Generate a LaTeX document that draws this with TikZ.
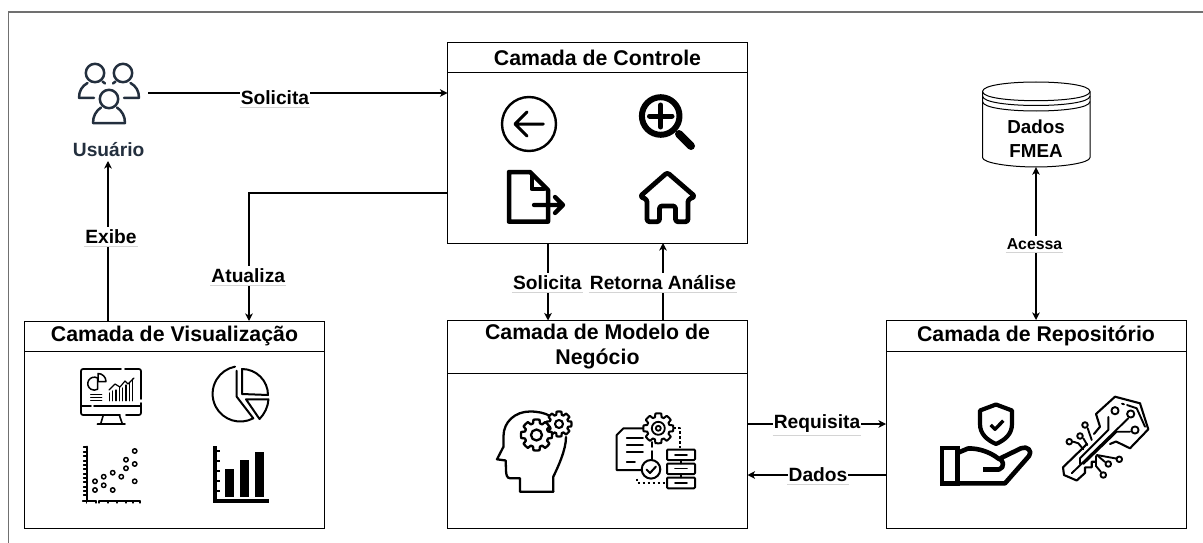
\documentclass[tikz,border=0pt]{standalone}
\usepackage{fontspec}
\setmainfont{Liberation Sans}
\usetikzlibrary{arrows.meta,calc}
\definecolor{usercol}{HTML}{232F3E}
\definecolor{framecol}{HTML}{707070}
\definecolor{ulcol}{HTML}{D4D4D4}
\tikzset{
  boxbody/.style={draw=black,fill=white,line width=1pt,inner sep=0pt,outer sep=0pt,minimum width=300pt},
  boxhead/.style={draw=black,fill=white,line width=1pt,inner sep=0pt,outer sep=0pt,minimum width=300pt,align=center,font=\fontsize{21.3}{25}\selectfont\bfseries},
  conn/.style={line width=1.2pt,-{Stealth[length=7.5pt,width=7.5pt,inset=2pt]}},
  connboth/.style={line width=1.2pt,{Stealth[length=7.5pt,width=7.5pt,inset=2pt]}-{Stealth[length=7.5pt,width=7.5pt,inset=2pt]}},
  lbl/.style={fill=white,inner xsep=1pt,inner ysep=2.5pt,font=\fontsize{19.2}{22}\selectfont\bfseries,
     append after command={(\tikzlastnode.south west) edge[draw=ulcol,line width=.9pt,-] (\tikzlastnode.south east)}},
  lblsmall/.style={lbl,font=\fontsize{15.8}{18}\selectfont\bfseries},
  ico/.style={draw=black,line width=#1,line cap=round,line join=round},
  ico/.default=1.7pt,
}
\newcommand{\gearshape}[6]{%
  \draw[fill=white,line width=#6,line join=round] plot[samples=\numexpr8*#5+1\relax,domain=0:360,variable=\t]
    ({#1+(#4+(#3-#4)*(cos(#5*\t)>-0.01))*cos(\t)},{#2+(#4+(#3-#4)*(cos(#5*\t)>-0.01))*sin(\t)}) -- cycle;
}
\begin{document}
\begin{tikzpicture}[x=1pt,y=-1pt]
\useasboundingbox (0,0) rectangle (1203,543);
% outer frame
\coordinate (frameTR) at (1203,12);
\coordinate (frameTL) at (8.7,12);
\coordinate (frameBL) at (8.7,543);
\draw[framecol,line width=1.4pt] (frameBL) -- (frameTL) -- (frameTR);

% boxes
\node[boxhead,minimum height=30pt] (ctrlH) at (597.5,58) {Camada de Controle};
\node[boxbody,minimum height=170pt] (ctrlB) at (597.5,158) {};
\node[boxhead,minimum height=30pt] (visH) at (174.5,336) {Camada de Visualização};
\node[boxbody,minimum height=177pt] (visB) at (174.5,439.5) {};
\node[boxhead,minimum height=53pt] (modH) at (597.5,347) {Camada de Modelo de\\Negócio};
\node[boxbody,minimum height=155pt] (modB) at (597.5,450.5) {};
\node[boxhead,minimum height=31pt] (repH) at (1036,335.5) {Camada de Repositório};
\node[boxbody,minimum height=177pt] (repB) at (1036,439.5) {};

% user
\node[inner sep=0pt,minimum width=78pt,minimum height=66pt] (user) at (109,93) {};
\node[inner sep=0pt,text=usercol,font=\fontsize{19.2}{22}\selectfont\bfseries] (userT) at (108.7,149.5) {Usuário};
\begin{scope}[usercol,line width=2.5pt,line cap=round,line join=round]
\draw (95,73) circle[radius=9.2];
\draw (123,73) circle[radius=9.2];
\draw (109,99) circle[radius=9.2];
\draw (94,97.8) -- (79,97.8) .. controls (79,91) and (82,86) .. (87.5,83);
\draw (102.5,81.5) -- (105,83.5);
\draw (124,97.8) -- (139,97.8) .. controls (139,91) and (136,86) .. (130.5,83);
\draw (115.5,81.5) -- (113,83.5);
\draw (93,123) -- (125,123) .. controls (125,116) and (122,111) .. (117,107.5);
\draw (93,123) .. controls (93,116) and (96,111) .. (101,107.5);
\end{scope}

% database
\node[inner sep=0pt,minimum width=108pt,minimum height=85pt] (db) at (1036,124.5) {};
\draw[line width=1pt,fill=white] (982.5,91.5) .. controls (982.5,85) and (1010,82) .. (1036,82) .. controls (1062,82) and (1090,85) .. (1090,91.5) -- (1090,157.5) .. controls (1090,163) and (1062,167) .. (1036,167) .. controls (1010,167) and (982.5,163) .. (982.5,157.5) -- cycle;
\draw[line width=1pt] (982.5,91.5) .. controls (982.5,98) and (1010,100.7) .. (1036,100.7) .. controls (1062,100.7) and (1090,98) .. (1090,91.5);
\draw[line width=1pt] (982.5,96) .. controls (982.5,102.5) and (1010,105.5) .. (1036,105.5) .. controls (1062,105.5) and (1090,102.5) .. (1090,96);
\draw[line width=1pt] (982.5,101.5) .. controls (982.5,108) and (1010,111) .. (1036,111) .. controls (1062,111) and (1090,108) .. (1090,101.5);
\node[inner sep=0pt,align=center,font=\fontsize{18.8}{24}\selectfont\bfseries] (dbT) at (1036,139) {Dados\\FMEA};

% connectors
\coordinate (solS) at (148,93);
\draw[conn] (solS) -- (ctrlB.west |- solS);
\node[lbl] (solL) at (275,98) {Solicita};
\coordinate (exX) at (108,161);
\draw[conn] (visH.north -| exX) -- (exX);
\node[lbl] (exL) at (111,237) {Exibe};
\coordinate (atY) at (249,193);
\draw[conn] (ctrlB.west |- atY) -- (atY) -- (visH.north -| atY);
\node[lbl] (atL) at (248.3,275.5) {Atualiza};
\coordinate (sol2X) at (548,283);
\draw[conn] (ctrlB.south -| sol2X) -- (modH.north -| sol2X);
\node[lbl] (sol2L) at (547.3,283) {Solicita};
\coordinate (retX) at (663,283);
\draw[conn] (modH.north -| retX) -- (ctrlB.south -| retX);
\node[lbl] (retL) at (663,283) {Retorna Análise};
\coordinate (reqY) at (817,424);
\draw[conn] (modB.east |- reqY) -- (repB.west |- reqY);
\node[lbl] (reqL) at (817,424) {Requisita};
\coordinate (dadY) at (818,475);
\draw[conn] (repB.west |- dadY) -- (modB.east |- dadY);
\node[lbl] (dadL) at (818,474.5) {Dados};
\coordinate (acX) at (1036,244);
\draw[connboth] (db.south -| acX) -- (repH.north -| acX);
\node[lblsmall] (acL) at (1034.5,244) {Acessa};

% === control icons ===
\draw[ico=2.4pt] (529,124) circle[radius=27];
\draw[ico=3pt] (543.3,124) -- (515.5,124) (527,112) -- (515,124) -- (527,136);
\draw[ico=6pt] (660.7,116) circle[radius=18.8];
\draw[ico=8pt] (679,134) -- (691,146);
\draw[ico=5pt] (649.5,116) -- (672,116) (660.7,105) -- (660.7,127);
\draw[ico=4.5pt] (509,172) -- (530,172) -- (548,190) -- (548,221.7) -- (509,221.7) -- cycle;
\draw[ico=4pt] (531.5,176) -- (531.5,189) -- (544,189);
\draw[ico=4.3pt] (534,205) -- (563,205) (555,197) -- (563,205) -- (555,213);
\draw[ico=4.8pt,rounded corners=2.5pt] (667.3,172.5) -- (695,196.5) -- (688,199.5) -- (688,221.7) -- (675.5,221.7) -- (675.5,206) -- (659.5,206) -- (659.5,221.7) -- (647,221.7) -- (647,199.5) -- (640,196.5) -- cycle;

% === visualisation icons ===
\begin{scope}[line cap=round,line join=round]
\draw[line width=1.7pt,rounded corners=2pt] (121,369) -- (81,369) -- (81,415) -- (120,415);
\draw[line width=1.7pt,rounded corners=2pt] (125,369) -- (141,369) -- (141,399);
\draw[line width=1.7pt,rounded corners=2pt] (141,403) -- (141,415) -- (126,415);
\draw[line width=1.7pt] (81,406) -- (91,406) (94,406) -- (141,406);
\draw[line width=1.6pt] (103.3,415) -- (100.7,423.8) (119.3,415) -- (122.3,423.8) (97.3,424) -- (125,424);
\draw[line width=1.5pt] (97.5,378) arc[start angle=-60,end angle=-300,radius=6.5] -- cycle;
\draw[line width=1.5pt] (98,373.5) arc[start angle=-90,end angle=0,radius=8] -- (98,381.5) -- cycle;
\draw[line width=1.2pt] (90.7,394.3) -- (101.7,394.3) (90.7,397.5) -- (101.7,397.5) (90.7,400.7) -- (101.7,400.7);
\foreach \xa/\ya in {109.3/393,112.7/391,116/390,119.3/387,122.7/388,126/385,129.3/383,132.7/379}{
  \draw[line width=1.3pt] (\xa,400.7) -- (\xa,\ya);}
\draw[line width=1.2pt] (109,390) -- (115,384) -- (120,387) -- (125,381) -- (128,384) -- (134,378);
% big pie
\draw[line width=2pt] (236.7,370.7) -- (236.7,396.7) -- (253.3,418.3) arc[start angle=62,end angle=259,radius=27.7];
\draw[line width=2pt] (242,394) -- (242,369) arc[start angle=-90,end angle=0,radius=26] -- cycle;
\draw[line width=2pt] (246,399.3) -- (268.5,399.3) .. controls (268,407) and (264.5,414) .. (259.5,419) -- cycle;
% scatter
\draw[line width=1.7pt] (86.7,446.5) -- (86.7,501);
\foreach \yt in {447,452,456,461,465,469,474,478,482,487,491,495}{\draw[line width=1.2pt] (83.5,\yt) -- (86.7,\yt);}
\draw[line width=1.7pt] (82.7,501) -- (96,501) (99,501) -- (140,501);
\foreach \xt in {86.7,96,99,108,117,126,133,140}{\draw[line width=1.2pt] (\xt,501) -- (\xt,503);}
\foreach \xa/\ya in {95/481.3,95/490,103.7/476.7,103.7/485.3,112.7/472.7,112.7/490,121.3/476.7,126/459.7,126/468.3,134.7/451,134.7/464,134.7/481.3}{
  \draw[line width=1.5pt] (\xa,\ya) circle[radius=2.2];}
% bars
\draw[line width=3.4pt,line cap=butt] (215,446) -- (215,502.7) (213.3,501) -- (269,501);
\foreach \yt in {450.7,461,471,481,491}{\draw[line width=2pt,line cap=butt] (216,\yt) -- (219.5,\yt);}
\fill (225,469) rectangle (234,496.7);
\fill (240,460) rectangle (249,496.7);
\fill (255,451.7) rectangle (264,496.7);
\end{scope}

% === model icons ===
\begin{scope}[line cap=round,line join=round]
\draw[line width=2.3pt] (553.3,491.7) -- (520,491.7) -- (520,478.3) -- (510,478.3) .. controls (507,478) and (506,475) .. (506,470) -- (505.7,460.5) -- (497,459.3) -- (503.5,446.7) -- (503.5,436) .. controls (503.5,422) and (515,411.5) .. (530,411.5) .. controls (538,411.5) and (545,413) .. (550,416);
\draw[line width=2.3pt] (553.3,491.7) -- (553.3,476.7) .. controls (558,467) and (566,450) .. (566,437);
\gearshape{559}{424}{12.5}{9.5}{8}{2.2pt}
\draw[line width=2.1pt] (559,424) circle[radius=4];
\gearshape{536.5}{435}{15.5}{12}{8}{2.3pt}
\draw[line width=2.3pt] (536.5,435) circle[radius=5.5];
% process icon
\draw[line width=2pt] (644,428.3) -- (623.5,428.3) -- (616.7,435) -- (616.7,470) -- (642,470);
\draw[line width=1.8pt] (626.7,438.3) -- (643,438.3) (626.7,445) -- (643,445) (626.7,451.7) -- (643,451.7) (626.7,461.7) -- (635,461.7);
\draw[line width=1.8pt] (651.7,442) -- (651.7,447) (651.7,451) -- (651.7,460);
\draw[line width=1.8pt,dash pattern=on 2.5pt off 2.5pt,line cap=butt] (637.3,478.5) -- (637.3,483.3) -- (666.7,483.3);
\draw[line width=1.8pt,dash pattern=on 2.5pt off 2.5pt,line cap=butt] (673,428.3) -- (680,428.3) -- (680,448.3);
\gearshape{658.3}{428.3}{15}{11.5}{8}{2pt}
\draw[line width=1.8pt] (658.3,428.3) circle[radius=6.5];
\draw[line width=1.8pt] (658.3,428.3) circle[radius=2.5];
\draw[line width=2pt,fill=white] (651,469.3) circle[radius=9.3];
\draw[line width=2pt] (646.5,469.5) -- (650,473) -- (656,466.5);
\draw[line width=2pt,rounded corners=1pt] (667,449.5) rectangle (695,460);
\draw[line width=2pt,rounded corners=1pt] (667,463.5) rectangle (695,474);
\draw[line width=2pt,rounded corners=1pt] (667,477.5) rectangle (695,488.3);
\draw[line width=1.6pt] (675,455) -- (687,455) (675,468.5) -- (687,468.5) (675,483) -- (687,483) (680.7,460) -- (680.7,463.5) (680.7,474) -- (680.7,477.5);
\end{scope}

% === repository icons ===
\begin{scope}[line cap=butt,line join=round]
\draw[line width=4.2pt] (996,404.5) -- (1012,410.5) -- (1012,424) .. controls (1012,434) and (1005,440) .. (996,444) .. controls (987,440) and (980,434) .. (980,424) -- (980,410.5) -- cycle;
\draw[line width=3.4pt] (990.7,425) -- (995,429.3) -- (1003.3,420.7);
\draw[line width=4.6pt,line join=miter] (957.3,448) -- (942,448) -- (942,483.3) -- (957.3,483.3) -- cycle;
\draw[line width=4.6pt] (957.3,453) -- (968,448.5) .. controls (978,448) and (990,452) .. (998,458.3) .. controls (1004,459) and (1005,468) .. (999,469.5) -- (983,469.5);
\draw[line width=4.6pt,line cap=round] (1001,458) -- (1021,448.3) .. controls (1027,445.5) and (1033,451) .. (1029,456) -- (1005,483.3) -- (957.3,483.3);
% key
\begin{scope}[line cap=round]
\draw[line width=2.1pt] (1087,444) -- (1063,467.3) -- (1064,475) -- (1076.7,480.5) -- (1085,473) -- (1085,467.3) -- (1091.7,467.3) -- (1091.7,461.7) -- (1096,461.7);
\draw[line width=2.1pt] (1110,444) -- (1116,441.5) -- (1130,448.3) -- (1148.3,429.3) -- (1140,403.3) -- (1115,396.7) -- (1096,414) -- (1100,426.7) -- (1094,434);
\draw[line width=1.9pt] (1122,403.7) -- (1124,404.3) (1127,405) -- (1136.7,408.3) -- (1145,426.7);
\draw[line width=1.9pt] (1071.7,473.3) -- (1128.3,418.3);
\draw[line width=1.9pt] (1080,458.3) -- (1108.3,430) -- (1108.3,417);
\draw[line width=1.9pt] (1080,458.3) -- (1080,464);
\draw[line width=1.9pt] (1083.3,464) -- (1116.7,431.7) -- (1130,431.7);
\draw[line width=1.9pt,fill=white] (1130.7,414) circle[radius=3.6];
\draw[line width=1.9pt,fill=white] (1135,430) circle[radius=3.6];
\draw[line width=1.9pt,fill=white] (1115,410.7) circle[radius=3.6];
\draw[line width=1.9pt] (1087.7,428.3) -- (1091.7,440);
\draw[line width=1.9pt] (1083.3,438.3) -- (1087.3,445);
\draw[line width=1.9pt] (1073.3,441.7) -- (1078.3,443.3) -- (1083.3,449.3);
\draw[line width=1.9pt] (1096.7,455) -- (1116,458.5);
\draw[line width=1.9pt] (1098,456) -- (1105,462);
\draw[line width=1.9pt] (1096,456) -- (1096,466) -- (1101,472);
\draw[line width=1.9pt,fill=white] (1085,425) circle[radius=2.8];
\draw[line width=1.9pt,fill=white] (1080,436) circle[radius=2.8];
\draw[line width=1.9pt,fill=white] (1069.3,441.7) circle[radius=2.8];
\draw[line width=1.9pt,fill=white] (1119.3,459.3) circle[radius=2.8];
\draw[line width=1.9pt,fill=white] (1108.3,464) circle[radius=2.8];
\draw[line width=1.9pt,fill=white] (1103.3,475) circle[radius=2.8];
\end{scope}
\end{scope}
\end{tikzpicture}
\end{document}
